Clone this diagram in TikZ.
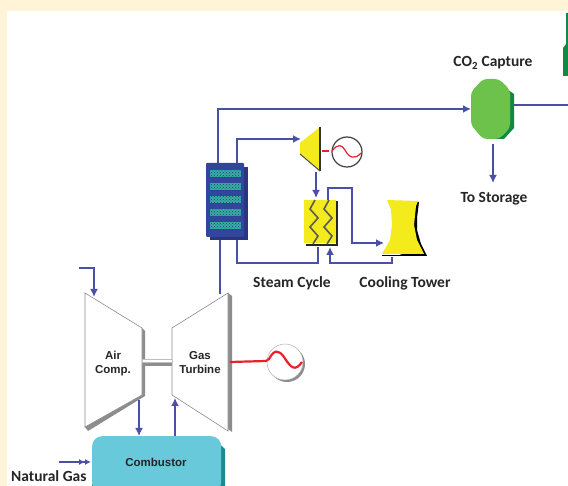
\documentclass[tikz,border=0pt]{standalone}
\usepackage{fontspec}
\setmainfont{Carlito}
\newfontfamily\arialf{Liberation Sans}
\usetikzlibrary{arrows.meta,calc,patterns}
\definecolor{cream}{HTML}{FFF3D8}
\definecolor{pipe}{HTML}{4A50A8}
\definecolor{hxblue}{HTML}{32459C}
\definecolor{hxdark}{HTML}{2A3580}
\definecolor{hxrow}{HTML}{35AFA0}
\definecolor{ylw}{HTML}{F4EB1C}
\definecolor{grn}{HTML}{6CC24A}
\definecolor{dgrn}{HTML}{0F8A45}
\definecolor{teal1}{HTML}{68C9DA}
\definecolor{teal2}{HTML}{1F8A90}
\definecolor{shadowg}{HTML}{8E8C8C}
\definecolor{gred}{HTML}{E8202A}
\tikzset{
 pipeline/.style={draw=pipe,line width=2pt},
 flow/.style={pipeline,-{Latex[length=8pt,width=8pt]}},
 lab/.style={font=\fontsize{15.5}{18}\selectfont\bfseries,text=black!85,inner sep=0pt},
 glab/.style={font=\arialf\fontsize{11.5}{14}\selectfont\bfseries,text=black!85,align=center,inner sep=0pt},
 machine/.style={fill=white,draw=black!45,line width=.6pt},
 gshadow/.style={fill=shadowg},
 hxrowst/.style={fill=hxrow,minimum width=31pt,minimum height=7pt,inner sep=0pt},
 zig/.style={draw=black!65,line width=1.6pt,line join=miter},
}
\begin{document}
\begin{tikzpicture}[x=1pt,y=-1pt]
\useasboundingbox (0,0) rectangle (568,486);
\fill[cream] (0,0) rectangle (568,486);
\fill[white] (7,11) rectangle (568,486);
% ports
\coordinate (hxTopA) at (218,163);
\coordinate (hxTopB) at (237,163);
\coordinate (hxBotA) at (220,240);
\coordinate (hxBotB) at (237,240);
\coordinate (capIn) at (471,109);
\coordinate (capOut) at (514,105);
\coordinate (capEnd) at (568,105);
\coordinate (capDown) at (493,144);
\coordinate (stEnd) at (493,183);
\coordinate (stIn) at (301,139);
\coordinate (stOut) at (316,172);
\coordinate (condIn) at (316,198);
\coordinate (condOutA) at (328,200);
\coordinate (condBack) at (318,247);
\coordinate (condRet) at (330,247);
\coordinate (towIn) at (384,243);
\coordinate (towOut) at (392,257);
\coordinate (airIn) at (79,268);
\coordinate (airTop) at (94,297);
\coordinate (airOut) at (139,400);
\coordinate (combIn) at (139,436);
\coordinate (combOut) at (175,436);
\coordinate (gtIn) at (175,398);
\coordinate (gtTop) at (220,294);
\coordinate (gasIn) at (59,462);
\coordinate (gasEnd) at (91,462);
% top-right green
\fill[dgrn] (566,13) -- (568,13) -- (568,76) -- (563,76) -- (563,48) -- (566,44) -- cycle;
% heat exchanger
\fill[hxdark] (210,167) rectangle (248,240);
\node[fill=hxblue,minimum width=38pt,minimum height=74pt,inner sep=0pt,rounded corners=1pt] (hx) at (225,200) {};
\foreach \yy/\nm in {174/a,187/b,200/c,213/d,226/e}{
  \node[hxrowst] (row\nm) at (225.5,\yy) {};
  \fill[pattern=crosshatch dots,pattern color=hxblue!80!black] (row\nm.south west) rectangle (row\nm.north east);
}
% CO2 capture
\fill[dgrn] (505,88) -- (514,94) -- (514,128) -- (504,139) -- (490,139) -- cycle;
\fill[grn,rounded corners=4pt] (483,79) -- (499,79) -- (510,90) -- (510,128) -- (499,139) -- (483,139) -- (471,125) -- (471,92) -- cycle;
\node[lab] (capL) at (493,63) {CO\textsubscript{2} Capture};
\node[lab] (stoL) at (494,199) {To Storage};
% steam turbine
\fill[ylw] (320,127) -- (300,143) -- (300,154) -- (320,171) -- cycle;
\draw[black!80,line width=1.3pt] (320,127) -- (320,171);
\draw[black!70,line width=1pt] (300,154) -- (320,171);
% generator small
\draw[black!75,line width=1.2pt,fill=white] (347,152) circle (15);
\draw[gred,line width=1.3pt] (322,151) -- (329,151);
\draw[gred,line width=1.2pt] (332,151) .. controls (338,143) and (342,145) .. (345,150) .. controls (349,158) and (355,160) .. (361,153);
% condenser
\fill[ylw] (304,200) rectangle (336,243);
\draw[black!85,line width=1.3pt] (337,201) -- (337,245) -- (306,245);
\foreach \xx in {310,324}{
 \draw[zig] (\xx+5,200) -- (\xx,209) -- (\xx+8,218) -- (\xx,227) -- (\xx+8,236) -- (\xx+3,244);
}
% cooling tower
\fill[black] (396,256) -- (427,256) -- (421,244) -- (417,230) -- (417,218) -- (419,202) -- (415,202) -- (411,225) -- (416,250) -- cycle;
\fill[ylw] (387,200) -- (418,201) -- (416,206) -- (414,225) -- (417,240) -- (424,254) -- (382,254) -- (390,240) -- (392,225) -- (391,210) -- cycle;
\draw[black,line width=1.2pt] (382,255.5) -- (427,255.5);
% pipes
\draw[flow] (hxTopA) |- (capIn);
\draw[flow] (hxTopB) |- (stIn);
\draw[flow] (stOut) -- (condIn);
\draw[flow] (condOutA) -- (328,188) -- (352,188) -- (352,243) -- (towIn);
\draw[flow] (towOut) -- (392,263) -- (330,263) -- (condRet);
\draw[pipeline] (hxBotB) -- (237,263) -- (318,263) -- (condBack);
\draw[pipeline] (hxBotA) -- (gtTop);
\draw[pipeline] (capOut) -- (capEnd);
\draw[flow] (capDown) -- (stEnd);
\draw[flow] (airIn) -- (94,268) -- (airTop);
\node[lab] (scL) at (292,283) {Steam Cycle};
\node[lab] (ctL) at (405,283) {Cooling Tower};
% air compressor
\fill[gshadow] (142,328) -- (145,331) -- (145,396) -- (88,431) -- (85,427) -- cycle;
\path[machine] (85,293) -- (142,328) -- (142,395) -- (85,427) -- cycle;
% gas turbine
\fill[gshadow] (228,293) -- (232,296) -- (232,432) -- (228,429) -- cycle;
\path[machine] (228,293) -- (172,328) -- (172,395) -- (228,431) -- cycle;
% shaft
\fill[gshadow] (145,362) rectangle (172,366);
\draw[black!25,line width=.4pt,fill=white] (142,359) rectangle (172,362);
\node[glab] (acL) at (113,364) {Air\\Comp.};
\node[glab] (gtL) at (200,363) {Gas\\Turbine};
% generator large
\fill[shadowg] (287,364) circle (18);
\draw[black!30,line width=.5pt,fill=white] (285,362) circle (18);
\draw[gred,line width=2.2pt] (230,362) -- (266,361) -- (269,359) .. controls (274,350) and (278,349) .. (284,357) .. controls (291,368) and (295,372) .. (302,362);
% combustor
\fill[teal2] (104,438) -- (213,438) -- (225,449) -- (225,486) -- (92,486) -- cycle;
\node[fill=teal1,minimum width=129pt,minimum height=56pt,inner sep=0pt,rounded corners=10pt,anchor=north west] (comb) at (92,436) {};
\node[glab] (cbL) at (156,462) {Combustor};
\draw[flow] (airOut) -- (combIn);
\draw[flow] (combOut) -- (gtIn);
\draw[pipeline,-{Latex[length=6pt,width=6pt]Latex[length=6pt,width=6pt]}] (gasIn) -- (gasEnd);
\node[lab,anchor=west] (ngL) at (11,476) {Natural Gas};
\end{tikzpicture}
\end{document}
